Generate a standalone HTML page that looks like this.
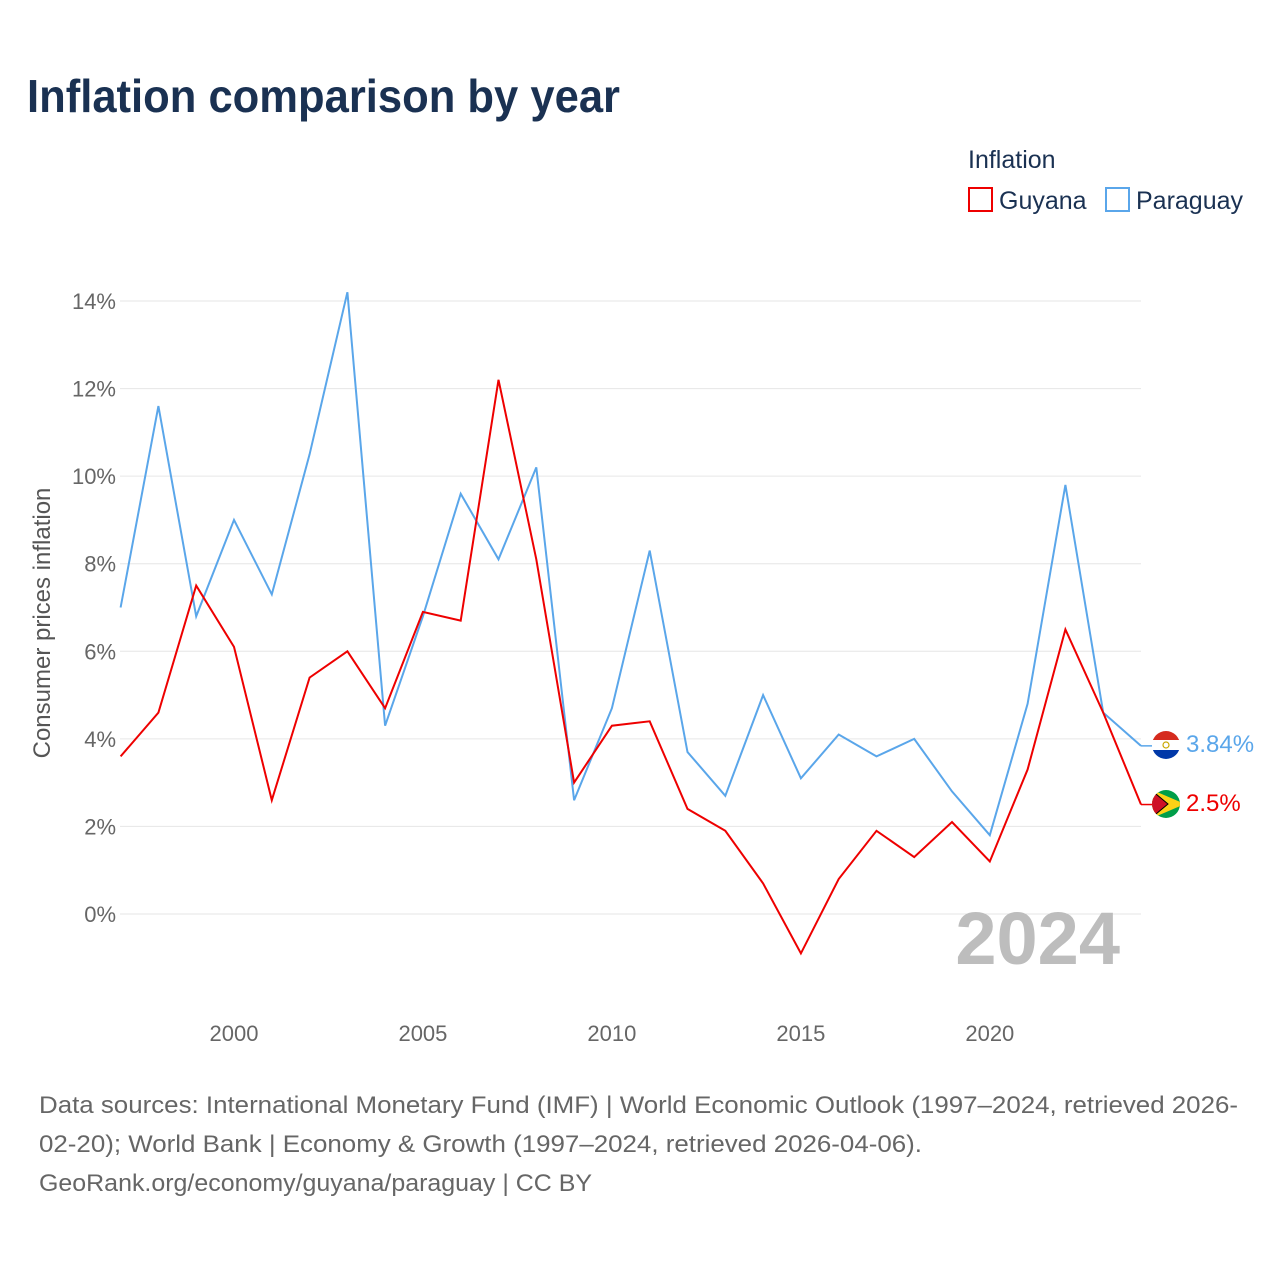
<!DOCTYPE html>
<html><head><meta charset="utf-8">
<style>
body{margin:0;background:#fff;font-family:"Liberation Sans",sans-serif;}
#wrap{position:relative;width:1280px;height:1280px;overflow:hidden;}
</style></head>
<body>
<div id="wrap">
<svg id="chart" width="1280" height="1280" xmlns="http://www.w3.org/2000/svg">
  <text x="27" y="112" font-size="46" font-weight="bold" fill="#1a3152" textLength="593" lengthAdjust="spacingAndGlyphs">Inflation comparison by year</text>
  <text x="968" y="168" font-size="25" fill="#1a3152">Inflation</text>
  <g>
    <rect x="969" y="188" width="23" height="23" fill="none" stroke="#ee0000" stroke-width="2"/>
    <text x="999" y="209" font-size="25" fill="#1a3152">Guyana</text>
  </g>
  <g>
    <rect x="1106" y="188" width="23" height="23" fill="none" stroke="#5aa6ea" stroke-width="2"/>
    <text x="1136" y="209" font-size="25" fill="#1a3152">Paraguay</text>
  </g>
  <g id="grid"></g>
  <g id="yticks"></g>
  <g id="xticks"></g>
  <text transform="translate(50,623) rotate(-90)" text-anchor="middle" font-size="24" fill="#555">Consumer prices inflation</text>
  <text x="1120" y="964" text-anchor="end" font-size="74" font-weight="bold" fill="#bdbdbd">2024</text>
  <g id="series"></g>
  <g>
    <clipPath id="cp1"><circle cx="1166" cy="745" r="14"/></clipPath>
    <g clip-path="url(#cp1)"><rect x="1150" y="730" width="32" height="10" fill="#d52b1e"/><rect x="1150" y="740" width="32" height="10" fill="#fff"/><rect x="1150" y="750" width="32" height="10" fill="#0038a8"/></g>
    <circle cx="1166" cy="745" r="3" fill="none" stroke="#c9a800" stroke-width="1.2"/>
  </g>
  <g>
    <clipPath id="cp2"><circle cx="1166" cy="804" r="14"/></clipPath>
    <g clip-path="url(#cp2)"><rect x="1150" y="789" width="32" height="30" fill="#009e49"/><polygon points="1150,789 1185,804 1150,819" fill="#fcd116"/><polygon points="1150,789 1168,804 1150,819" fill="#ce1126" stroke="#000" stroke-width="1"/></g>
  </g>
  <text x="1186" y="752" font-size="24" fill="#5aa6ea">3.84%</text>
  <text x="1186" y="811" font-size="24" fill="#ee0000">2.5%</text>
  <text font-size="24" fill="#666">
    <tspan x="39" y="1113" textLength="1199" lengthAdjust="spacingAndGlyphs">Data sources: International Monetary Fund (IMF) | World Economic Outlook (1997–2024, retrieved 2026-</tspan>
    <tspan x="39" y="1152" textLength="883" lengthAdjust="spacingAndGlyphs">02-20); World Bank | Economy &amp; Growth (1997–2024, retrieved 2026-04-06).</tspan>
    <tspan x="39" y="1191" textLength="553" lengthAdjust="spacingAndGlyphs">GeoRank.org/economy/guyana/paraguay | CC BY</tspan>
  </text>
</svg>
</div>
<script>
const years = [1997,1998,1999,2000,2001,2002,2003,2004,2005,2006,2007,2008,2009,2010,2011,2012,2013,2014,2015,2016,2017,2018,2019,2020,2021,2022,2023,2024];
const guyana = [3.6,4.6,7.5,6.1,2.6,5.4,6.0,4.7,6.9,6.7,12.2,8.1,3.0,4.3,4.4,2.4,1.9,0.7,-0.9,0.8,1.9,1.3,2.1,1.2,3.3,6.5,4.6,2.5];
const paraguay = [7.0,11.6,6.8,9.0,7.3,10.5,14.2,4.3,6.8,9.6,8.1,10.2,2.6,4.7,8.3,3.7,2.7,5.0,3.1,4.1,3.6,4.0,2.8,1.8,4.8,9.8,4.6,3.84];
const yTickValues = [0,2,4,6,8,10,12,14];
const xTickValues = [2000,2005,2010,2015,2020];

const NS = "http://www.w3.org/2000/svg";
function xs(yr){ return 120.6 + (yr-1997)*(1141-120.6)/27; }
function ys(v){ return 914 - v*(914-301)/14; }
function mk(tag, attrs, parent){ const e=document.createElementNS(NS,tag); for(const k in attrs) e.setAttribute(k,attrs[k]); parent.appendChild(e); return e; }

const grid=document.getElementById('grid'), yt=document.getElementById('yticks'), xt=document.getElementById('xticks'), ser=document.getElementById('series');
yTickValues.forEach(v=>{
  const l=mk('line',{x1:120,x2:1141,y1:ys(v),y2:ys(v),stroke:'#e6e6e6','stroke-width':1},grid);
  
  
  const t=mk('text',{x:116,y:ys(v)+8,'text-anchor':'end','font-size':22,fill:'#666'},yt);
  t.textContent=v+'%';
  
  
});
xTickValues.forEach(v=>{
  const t=mk('text',{x:xs(v),y:1041,'text-anchor':'middle','font-size':22,fill:'#666'},xt);
  t.textContent=v;
  
  
});
function line(vals,color,name){
  const d=vals.map((v,i)=>(i?'L':'M')+xs(years[i]).toFixed(1)+','+ys(v).toFixed(1)).join(' ');
  const p=mk('path',{d:d,fill:'none',stroke:color,'stroke-width':2,'stroke-linejoin':'miter'},ser);
  
  
  const last=vals[vals.length-1];
  mk('line',{x1:xs(2024),y1:ys(last),x2:1152,y2:ys(last),stroke:color,'stroke-width':1.5},ser);
}
line(paraguay,'#5aa6ea','paraguay-line');
line(guyana,'#ee0000','guyana-line');
</script>
</body></html>
